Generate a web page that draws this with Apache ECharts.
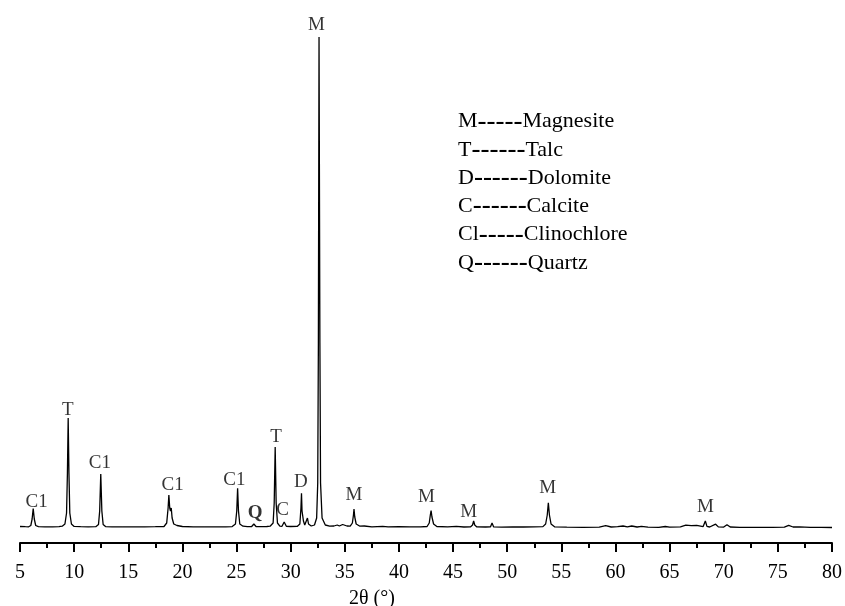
<!DOCTYPE html>
<html>
<head>
<meta charset="utf-8">
<script src="https://cdn.jsdelivr.net/npm/echarts@6/dist/echarts.min.js"></script>
<style>html,body{margin:0;padding:0;background:#fff}#c{width:845px;height:606px}</style>
</head>
<body>
<div id="c"></div>
<script>
// XRD pattern: 2θ (°) and intensity (a.u.)
const twoTheta = [5.0,5.5,5.8,6.0,6.12,6.22,6.32,6.45,6.7,7.3,8.0,8.6,8.9,9.15,9.3,9.38,9.45,9.52,9.6,9.75,10.0,10.6,11.3,12.0,12.25,12.36,12.46,12.56,12.68,12.9,13.5,14.5,15.5,16.5,17.5,18.3,18.55,18.68,18.75,18.83,18.9,18.97,19.05,19.2,19.3,19.5,20.0,21.0,22.0,23.0,24.0,24.6,24.9,25.02,25.1,25.18,25.3,25.6,26.0,26.4,26.6,26.8,27.3,27.8,28.1,28.38,28.48,28.57,28.66,28.78,29.0,29.2,29.4,29.6,30.0,30.6,30.85,30.95,31.0,31.05,31.1,31.18,31.3,31.45,31.55,31.65,31.9,32.2,32.4,32.5,32.56,32.62,32.7,32.76,32.9,33.2,33.6,34.0,34.3,34.5,34.8,35.2,35.5,35.7,35.8,35.85,35.92,36.05,36.4,36.8,37.5,38.5,39.0,40.0,41.0,42.0,42.6,42.8,42.9,42.97,43.05,43.2,43.5,44.5,45.3,46.0,46.6,46.8,46.9,47.0,47.2,48.0,48.45,48.6,48.75,49.5,50.5,51.5,52.5,53.3,53.55,53.7,53.8,53.9,54.05,54.4,55.5,57.0,58.5,59.1,59.6,60.2,60.7,61.1,61.5,62.0,62.4,63.0,64.0,64.6,65.0,66.0,66.5,67.0,67.5,68.1,68.3,68.45,68.7,69.25,69.5,70.0,70.3,70.6,71.5,73.0,74.5,75.6,76.0,76.4,77.0,78.0,79.0,80.0];
const intensity = [16.5,16.3,16.2,17.5,24,34.5,24,17.5,16.3,16.2,16.2,16.4,16.8,19,30,70,125,70,30,19,16.6,16.3,16.2,16.3,18.5,32,69,32,18.5,16.4,16.2,16.1,16.1,16.2,16.3,16.5,20,35,48,35,32,35,25,19,20,17.5,16.5,16.2,16.1,16.1,16.2,16.4,19,32,54.7,32,19,16.8,16.4,16.5,19,16.5,16.3,16.5,16.8,20,40,96,40,20,16.8,16.7,21,16.7,16.5,16.6,19,35,49.7,32,34,22,18,20,25,19,17,18,25,60,200,506,200,60,25,18,16.8,17,18,17,18.5,17,16.8,20,28,34,26,19,16.8,17,16.2,16.6,16.1,16.3,16.1,16.2,16.5,20,28,32.5,26,19,16.5,16.1,16.6,16.0,16.1,18,22,18,16.1,16.0,16.1,20,16.1,15.9,16.0,16.0,16.1,16.4,19,28,40.3,28,19,16.1,15.8,15.7,15.8,17.3,16.0,16.3,17.0,16.2,17.0,16.0,16.7,15.8,15.7,16.5,15.8,16.2,17.8,17.3,17.6,16.4,22,16.6,16.0,18.8,16.1,15.9,18.3,16.0,15.7,15.6,15.6,15.8,17.6,16.0,16.2,15.6,15.6,15.5,15.5];

// Phase marks above the peaks: label, 2θ, intensity level of the label
const markText = ['C1','T','C1','C1','C1','Q','T','C','D','M','M','M','M','M','M'];
const markTheta = [6.54,9.42,12.37,19.1,24.8,26.73,28.64,29.25,30.94,32.38,35.85,42.54,46.44,53.74,68.32];
const markLevel = [41,133,80,58,63,29.7,106.3,33,60.7,518,48,46,31,54.7,35.7];

// Legend text lines
const legendCode = ['M','T','D','C','Cl','Q'];
const legendDash = ['-----','------','------','------','-----','------'];
const legendName = ['Magnesite','Talc','Dolomite','Calcite','Clinochlore','Quartz'];

// X axis ticks
const xMin = 5, xMax = 80, xStep = 5;
const xTitle = '2θ (°)';

const chart = echarts.init(document.getElementById('c'), null, {renderer: 'canvas'});
const serif = '"Liberation Serif", "Times New Roman", serif';

const lineData = twoTheta.map((t, i) => [t, intensity[i]]);
const markData = markTheta.map((t, i) => ({
  value: [t, markLevel[i]], name: markText[i],
  label: markText[i] === 'Q' ? {fontWeight: 'bold'} : undefined
}));

const graphics = legendCode.map((c, i) => ({
  type: 'text',
  left: 458,
  top: 108 + i * 28.3,
  silent: true,
  style: {
    text: '{a|' + c + '}{d|' + legendDash[i] + '}{a|' + legendName[i] + '}',
    rich: {
      a: {fontFamily: serif, fontSize: 22, fill: '#000', lineHeight: 28},
      d: {fontFamily: serif, fontSize: 27, fill: '#000', lineHeight: 28}
    }
  }
}));
graphics.push({
  type: 'text',
  left: 349,
  top: 589,
  silent: true,
  style: {text: xTitle, fontFamily: serif, fontSize: 20, fill: '#000'}
});

chart.setOption({
  animation: false,
  backgroundColor: '#fff',
  grid: {left: 20, right: 11, top: 23, bottom: 63, containLabel: false},
  xAxis: {
    type: 'value', min: xMin, max: xMax, interval: xStep,
    axisLine: {show: true, lineStyle: {color: '#000', width: 2}},
    axisTick: {show: true, length: 9, lineStyle: {color: '#000', width: 2}},
    minorTick: {show: true, splitNumber: 2, length: 5, lineStyle: {color: '#000', width: 2}},
    splitLine: {show: false},
    axisLabel: {color: '#000', fontFamily: serif, fontSize: 20, margin: 20}
  },
  yAxis: {
    type: 'value', min: 0, max: 520, show: false,
    splitLine: {show: false}
  },
  series: [
    {
      type: 'line', data: lineData, showSymbol: false, symbol: 'none',
      lineStyle: {color: '#000', width: 1.3}, z: 2
    },
    {
      type: 'scatter', data: markData, symbolSize: 0, z: 3,
      label: {
        show: true, position: 'inside', formatter: p => p.name,
        color: '#000', fontFamily: serif, fontSize: 19
      },
      labelLayout: {hideOverlap: false}
    }
  ],
  graphic: graphics
});
</script>
</body>
</html>
